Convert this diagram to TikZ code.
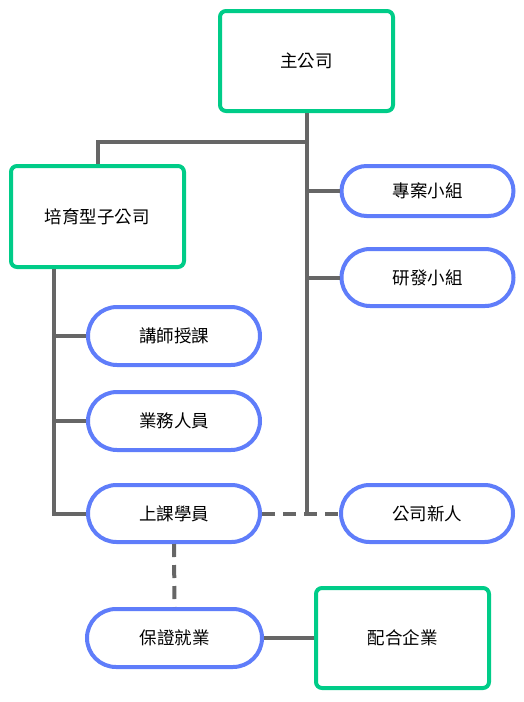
\documentclass[tikz,border=0pt]{standalone}
\usepackage{fontspec}
\setmainfont{Noto Sans CJK TC}
\usetikzlibrary{shapes.misc}
\definecolor{boxgreen}{RGB}{0,204,136}
\definecolor{pillblue}{RGB}{95,125,250}
\definecolor{linegray}{RGB}{102,102,102}
\begin{document}
\begin{tikzpicture}[x=1pt,y=-1pt,
  gbox/.style={draw=boxgreen,line width=4pt,rounded corners=6pt,fill=white,minimum width=173pt,minimum height=100pt,inner sep=0pt,font=\fontsize{17.5pt}{20pt}\selectfont},
  pill/.style={draw=pillblue,line width=4pt,rounded rectangle,fill=white,minimum width=172pt,minimum height=58pt,inner sep=0pt,font=\fontsize{17.5pt}{20pt}\selectfont},
  conn/.style={draw=linegray,line width=4pt},
  dconn/.style={conn,dash pattern=on 13pt off 8pt}]
\useasboundingbox (0,0) rectangle (523,702);
\node[gbox] (main) at (306.5,61) {主公司};
\node[gbox,minimum height=101pt] (sub) at (97.5,216.5) {培育型子公司};
\node[gbox] (corp) at (402.5,638) {配合企業};
\node[pill,minimum height=50pt] (proj) at (427.5,191) {專案小組};
\node[pill,minimum height=57pt] (rd) at (427.5,277.5) {研發小組};
\node[pill] (lect) at (174,336) {講師授課};
\node[pill] (biz) at (174,421) {業務人員};
\node[pill,minimum height=57pt] (stud) at (174,513.5) {上課學員};
\node[pill,minimum height=57pt] (newb) at (427,513.5) {公司新人};
\node[pill,minimum width=175pt] (guar) at (174.5,638) {保證就業};
\coordinate (hbar) at (0,142);
\coordinate (leftx) at (54,0);
\draw[conn] (main.south) -- (main.south |- newb.west);
\draw[conn] (main.south |- hbar) -| (sub.north);
\draw[conn] (main.south |- proj.west) -- (proj.west);
\draw[conn] (main.south |- rd.west) -- (rd.west);
\draw[conn] (leftx |- sub.south) -- (leftx |- stud.west) -- (stud.west);
\draw[conn] (leftx |- lect.west) -- (lect.west);
\draw[conn] (leftx |- biz.west) -- (biz.west);
\draw[dconn] (stud.east) -- (newb.west);
\draw[dconn] (stud.south) -- (guar.north);
\draw[conn] (guar.east) -- (corp.west);
\end{tikzpicture}
\end{document}
